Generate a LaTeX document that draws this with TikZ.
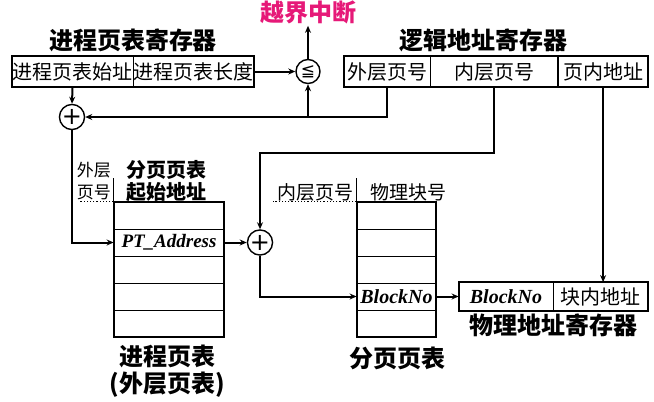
\documentclass[tikz,border=0pt]{standalone}
\usepackage{fontspec}
\setmainfont{Liberation Serif}
\newfontfamily\cjk{Noto Sans CJK SC}
\newfontfamily\symb{DejaVu Sans}
\usetikzlibrary{calc,positioning,arrows.meta}
\definecolor{alarm}{RGB}{230,25,120}
\tikzstyle{cell}=[draw, line width=0.8pt, minimum height=31pt, inner sep=0pt, font=\cjk\fontsize{20}{20}\selectfont]
\tikzstyle{row}=[draw, line width=0.8pt, minimum height=27pt, inner sep=0pt, font=\bfseries\itshape\fontsize{19}{19}\selectfont]
\tikzstyle{outerrow}=[row, minimum width=110pt]
\tikzstyle{innerrow}=[row, minimum width=79pt]
\tikzstyle{frame}=[line width=2pt]
\tikzstyle{title}=[font=\cjk\bfseries\fontsize{24}{27}\selectfont, align=center, inner sep=2pt]
\tikzstyle{subtitle}=[title, font=\cjk\bfseries\fontsize{20}{22}\selectfont]
\tikzstyle{note}=[font=\cjk\fontsize{17}{22}\selectfont, align=right, inner sep=1pt]
\tikzstyle{adder}=[draw, circle, line width=1.4pt, minimum size=24pt, inner sep=0pt, font=\symb\fontsize{24}{24}\selectfont]
\tikzstyle{conn}=[line width=2pt, -{Stealth[length=7pt,width=6pt]}]

\begin{document}
\begin{tikzpicture}[x=1pt,y=-1pt]
\useasboundingbox (0,0) rectangle (654,402);

% registers
\node (pbase) at (72.5,71.5) [cell, minimum width=121pt] {进程页表始址};
\node (plen) [cell, minimum width=120pt, right=0pt of pbase] {进程页表长度};
\draw[frame] (pbase.north west) rectangle (plen.south east);
\node (preg) [title] at (133,40) {进程页表寄存器};

\node (outer) at (387,71.5) [cell, minimum width=86pt] {外层页号};
\node (inner) [cell, minimum width=127pt, right=0pt of outer] {内层页号};
\node (offset) [cell, minimum width=89pt, right=0pt of inner] {页内地址};
\draw[frame] (outer.north west) rectangle (offset.south east);
\node (lreg) [title] at (483,40) {逻辑地址寄存器};

\node (blk) at (506,296.5) [cell, minimum width=94pt, minimum height=28pt, font=\bfseries\itshape\fontsize{20}{20}\selectfont] {BlockNo};
\node (off2) [cell, minimum width=94pt, minimum height=28pt, right=0pt of blk] {块内地址};
\draw[frame] (blk.north west) rectangle (off2.south east);
\node (areg) [title] at (553,325) {物理地址寄存器};

% adders
\node (add1) at (72,117) [adder] {+};
\node (cmp) at (308,71.5) [adder, font=\symb\fontsize{17}{17}\selectfont] {≦};
\node (add2) at (260,242.5) [adder] {+};
\node (intr) [title, text=alarm] at (308,12) {越界中断};

% outer page table
\node (pt1) at (169,215.5) [outerrow] {};
\node (pt2) at (169,242.5) [outerrow] {PT\_Address};
\node (pt3) at (169,269.5) [outerrow] {};
\node (pt4) at (169,296.5) [outerrow] {};
\node (pt5) at (169,323.5) [outerrow] {};
\draw[frame] (pt1.north west) rectangle (pt5.south east);
\node (ptname) [title] at (167,371.5) {进程页表\\(外层页表)};
\node (olab) [note, anchor=east] at (112,181) {外层\\页号};
\node (ptitle) [subtitle] at (166,181) {分页页表\\起始地址};
\draw[line width=1pt] (pt1.north west) -- ++(0,-24);
\draw[dotted, line width=1.2pt] (pt1.north west) -- ++(-34,0);

% inner page table
\node (bt1) at (396.5,215.5) [innerrow] {};
\node (bt2) at (396.5,242.5) [innerrow] {};
\node (bt3) at (396.5,269.5) [innerrow] {};
\node (bt4) at (396.5,296.5) [innerrow, font=\bfseries\itshape\fontsize{20}{20}\selectfont] {BlockNo};
\node (bt5) at (396.5,323.5) [innerrow] {};
\draw[frame] (bt1.north west) rectangle (bt5.south east);
\node (btname) [title] at (397,358) {分页页表};
\node (ilab) [note, anchor=east, font=\cjk\fontsize{19}{19}\selectfont] at (355,192) {内层页号};
\node (blab) [note, font=\cjk\fontsize{19}{19}\selectfont] at (408,192) {物理块号};
\draw[line width=1pt] (bt1.north west) -- ++(0,-24);
\draw[dotted, line width=1.2pt] (bt1.north west) -- ++(-84,0);

% connectors
\draw[conn] (pbase.south) -- (add1.north);
\draw[conn] (plen.east) -- (cmp.west);
\draw[conn] (cmp.north) -- (intr.south);
\draw[conn] (outer.south) |- (add1.east);
\coordinate (j1) at (cmp |- add1);
\draw[conn] (j1) -- (cmp.south);
\draw[conn] (add1.south) |- (pt2.west);
\draw[conn] (pt2.east) -- (add2.west);
\draw[conn] (inner.south) -- ++(0,66) -| (add2.north);
\draw[conn] (add2.south) |- (bt4.west);
\draw[conn] (bt4.east) -- (blk.west);
\draw[conn] (offset.south) -- (offset.south |- off2.north);

\end{tikzpicture}
\end{document}
